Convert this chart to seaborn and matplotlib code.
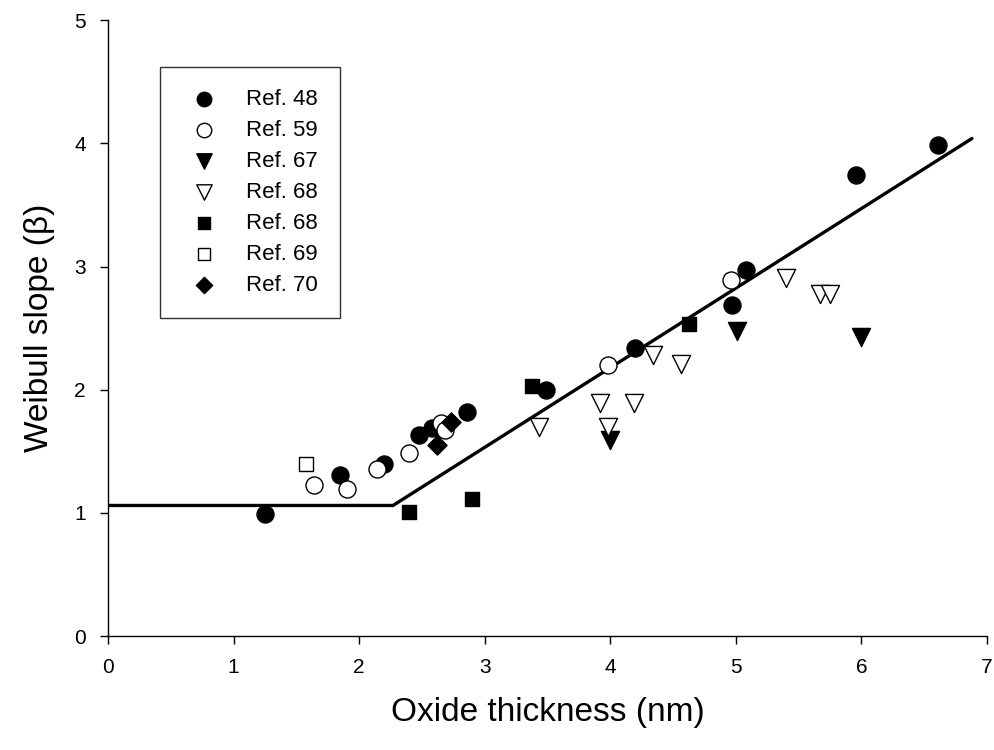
import seaborn as sns
import matplotlib.pyplot as plt

sns.set_style("ticks")
plt.rcParams['font.family'] = ['Liberation Sans', 'DejaVu Sans']
plt.rcParams['text.color'] = 'black'
plt.rcParams['axes.labelcolor'] = 'black'

# Ref. 48 (filled circles)
r48_x = [1.25, 1.85, 2.20, 2.48, 2.58, 2.68, 2.86, 3.49, 4.20, 4.97, 5.08, 5.96, 6.61]
r48_y = [0.99, 1.31, 1.40, 1.63, 1.69, 1.70, 1.82, 2.00, 2.34, 2.69, 2.97, 3.74, 3.99]
# Ref. 59 (open circles)
r59_x = [1.64, 1.90, 2.14, 2.40, 2.65, 2.68, 3.98, 4.96]
r59_y = [1.23, 1.19, 1.36, 1.49, 1.73, 1.67, 2.20, 2.89]
# Ref. 67 (filled down triangles)
r67_x = [4.00, 5.01, 6.00]
r67_y = [1.59, 2.48, 2.43]
# Ref. 68 (open down triangles)
r68a_x = [3.43, 3.92, 3.98, 4.19, 4.34, 4.56, 5.40, 5.67, 5.75]
r68a_y = [1.70, 1.89, 1.70, 1.89, 2.28, 2.21, 2.91, 2.78, 2.78]
# Ref. 68 (filled squares)
r68b_x = [2.40, 2.90, 3.38, 4.63]
r68b_y = [1.01, 1.11, 2.03, 2.53]
# Ref. 69 (open square)
r69_x = [1.58]
r69_y = [1.40]
# Ref. 70 (filled diamonds)
r70_x = [2.62, 2.73]
r70_y = [1.55, 1.74]

# fitted line
fit_x = [0.0, 2.27, 6.88]
fit_y = [1.06, 1.06, 4.04]

fig = plt.figure(figsize=(9.95, 7.5), dpi=100)
ax = fig.add_axes([0.1085, 0.152, 0.8835, 0.821])

series = [
    (r48_x, r48_y, "o", "black", 150, "Ref. 48"),
    (r59_x, r59_y, "o", "white", 150, "Ref. 59"),
    (r67_x, r67_y, "v", "black", 170, "Ref. 67"),
    (r68a_x, r68a_y, "v", "white", 170, "Ref. 68"),
    (r68b_x, r68b_y, "s", "black", 110, "Ref. 68"),
    (r69_x, r69_y, "s", "white", 110, "Ref. 69"),
    (r70_x, r70_y, "D", "black", 95, "Ref. 70"),
]
for xs, ys, m, fc, s, lab in series:
    sns.scatterplot(x=xs, y=ys, marker=m, color=fc, edgecolor="black",
                    linewidth=1.0, s=s, label=lab, ax=ax, zorder=3)

sns.lineplot(x=fit_x, y=fit_y, sort=False, color="black", linewidth=2.4,
             ax=ax, zorder=2)

ax.set_xlim(0, 7)
ax.set_ylim(0, 5)
ax.set_xticks(range(0, 8))
ax.set_yticks(range(0, 6))
ax.tick_params(labelsize=15, direction="out", length=6, width=1, colors="black", pad=10)
ax.set_xlabel("Oxide thickness (nm)", fontsize=24, labelpad=14)
ax.set_ylabel("Weibull slope (β)", fontsize=24, labelpad=14)
sns.despine(ax=ax)
for sp in ax.spines.values():
    sp.set_color("black")
    sp.set_linewidth(1)

leg = ax.legend(loc="upper left", bbox_to_anchor=(0.059, 0.924), borderaxespad=0,
                fontsize=16, frameon=True, fancybox=False, labelspacing=0.45,
                handletextpad=0.9, borderpad=1.0, handlelength=2.0, markerscale=0.85)
leg.get_frame().set_edgecolor("black")
leg.get_frame().set_linewidth(1)

fig.savefig("out.png", dpi=100)
